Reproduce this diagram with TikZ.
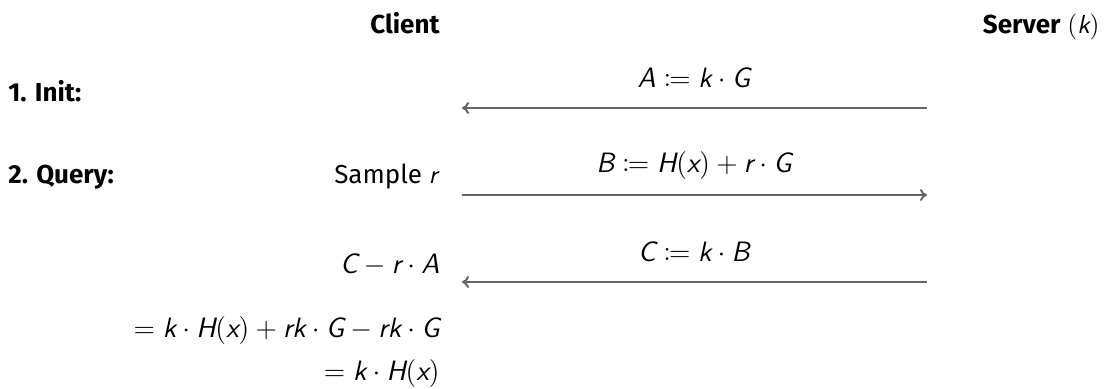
\RequirePackage{fix-cm}
\documentclass[tikz,border=0pt]{standalone}
\usepackage{mathtools}
\usepackage{fontspec}
\setmainfont{Fira Sans}
\usetikzlibrary{arrows.meta}

% italic sans letters for the formulas
\newcommand\mi[1]{\textsf{\itshape #1}}

\tikzset{
  txt/.style={inner sep=0pt, font=\fontsize{13}{16}\selectfont},
  hdr/.style={txt, font=\fontsize{13}{16}\selectfont\bfseries},
  frm/.style={inner sep=0pt, font=\fontsize{14}{17}\selectfont},
  msg/.style={draw=black!60, line width=1pt, -{To[length=3.5pt,width=6pt]}},
}

\begin{document}
\begin{tikzpicture}[x=0.5pt, y=-0.5pt]
  \useasboundingbox (0,0) rectangle (1108,388);

  % column headers
  \node[hdr, anchor=base east] (client) at (440,33) {Client};
  \node[txt, anchor=base east] (server) at (1100,33) {\textbf{Server} $(\mi{k})$};

  % step labels
  \node[hdr, anchor=base west] (init)  at (8,101) {1. Init:};
  \node[hdr, anchor=base west] (query) at (8,183) {2. Query:};

  % client side
  \node[txt, anchor=base east] (sample) at (440,183) {Sample \mi{r}};
  \node[frm, anchor=base east] (unblind) at (440,273)
    {$\mi{C} - \mi{r}\cdot\mi{A}$};
  \node[frm, anchor=base east] (expand) at (440,337)
    {$= \mi{k}\cdot\mi{H}(\mi{x}) + \mi{rk}\cdot\mi{G} - \mi{rk}\cdot\mi{G}$};
  \node[frm, anchor=base east] (result) at (440,380)
    {$= \mi{k}\cdot\mi{H}(\mi{x})$};

  % message end points
  \coordinate (c1) at (462,108);
  \coordinate (s1) at (927,108);
  \coordinate (c2) at (462,195);
  \coordinate (s2) at (927,195);
  \coordinate (c3) at (462,282);
  \coordinate (s3) at (927,282);

  % messages
  \draw[msg] (s1) -- (c1);
  \draw[msg] (c2) -- (s2);
  \draw[msg] (s3) -- (c3);

  \node[frm, anchor=base] (m1) at (694,87)
    {$\mi{A} \coloneqq \mi{k}\cdot\mi{G}$};
  \node[frm, anchor=base] (m2) at (694,172)
    {$\mi{B} \coloneqq \mi{H}(\mi{x}) + \mi{r}\cdot\mi{G}$};
  \node[frm, anchor=base] (m3) at (694,261)
    {$\mi{C} \coloneqq \mi{k}\cdot\mi{B}$};
\end{tikzpicture}
\end{document}
